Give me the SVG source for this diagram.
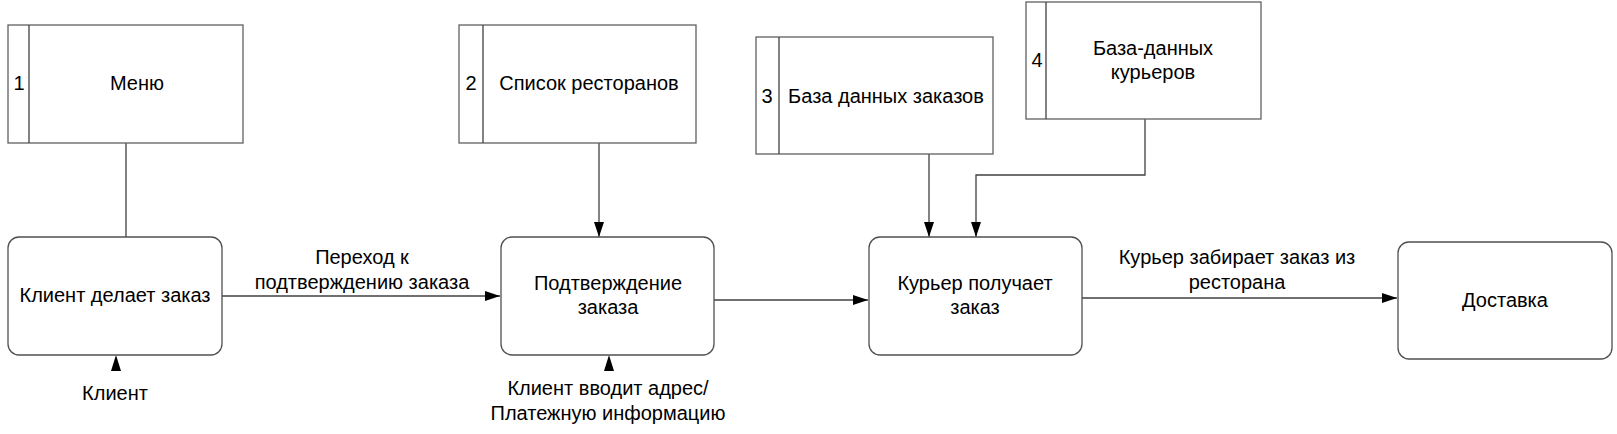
<svg xmlns="http://www.w3.org/2000/svg" width="1617" height="434" viewBox="0 0 1617 434">
<style>
  .bg{fill:#ffffff}
  .store{fill:#ffffff;stroke:#606060;stroke-width:1.3}
  .proc{fill:#ffffff;stroke:#505050;stroke-width:1.3}
  .div{stroke:#404040;stroke-width:1.3;fill:none}
  .t{font-family:"Liberation Sans",Arial,sans-serif;font-size:20px;fill:#000;text-anchor:middle}
  .c{fill:none;stroke:#404040;stroke-width:1.3}
</style>
<defs>
  <marker id="arr" viewBox="0 0 15 10" refX="15" refY="5" markerWidth="15" markerHeight="10" markerUnits="userSpaceOnUse" orient="auto">
    <path d="M0,0 L15,5 L0,10 Z" fill="#000"/>
  </marker>
</defs>
<rect class="bg" x="0" y="0" width="1617" height="434"/>

<g id="connectors">
  <path class="c" d="M126,143 V237"/>
  <path class="c" d="M222,296 H500" marker-end="url(#arr)"/>
  <path class="c" d="M599,143 V237" marker-end="url(#arr)"/>
  <path class="c" d="M714,300 H868" marker-end="url(#arr)"/>
  <path class="c" d="M929,154 V237" marker-end="url(#arr)"/>
  <path class="c" d="M1145,119 V175 H976 V237" marker-end="url(#arr)"/>
  <path class="c" d="M1082,298 H1397" marker-end="url(#arr)"/>
  <path d="M116,355 L121,371 L111,371 Z" fill="#000"/>
  <path d="M609,355 L614,371 L604,371 Z" fill="#000"/>
  <text class="t" x="362" y="264">Переход к</text>
  <text class="t" x="362" y="289">подтверждению заказа</text>
  <text class="t" x="1237" y="264">Курьер забирает заказ из</text>
  <text class="t" x="1237" y="289">ресторана</text>
  <text class="t" x="115" y="400">Клиент</text>
  <text class="t" x="608" y="395">Клиент вводит адрес/</text>
  <text class="t" x="608" y="420">Платежную информацию</text>
</g>

<g id="store1">
  <rect class="store" x="8" y="25" width="235" height="118"/>
  <line class="div" x1="29" y1="25" x2="29" y2="143"/>
  <text class="t" x="19" y="90">1</text>
  <text class="t" x="137" y="90">Меню</text>
</g>

<g id="store2">
  <rect class="store" x="459" y="25" width="237" height="118"/>
  <line class="div" x1="483" y1="25" x2="483" y2="143"/>
  <text class="t" x="471" y="90">2</text>
  <text class="t" x="589" y="90">Список ресторанов</text>
</g>

<g id="store3">
  <rect class="store" x="756" y="37" width="237" height="117"/>
  <line class="div" x1="779" y1="37" x2="779" y2="154"/>
  <text class="t" x="767" y="103">3</text>
  <text class="t" x="886" y="103">База данных заказов</text>
</g>

<g id="store4">
  <rect class="store" x="1026" y="2" width="235" height="117"/>
  <line class="div" x1="1046" y1="2" x2="1046" y2="119"/>
  <text class="t" x="1037" y="67">4</text>
  <text class="t" x="1153" y="55">База-данных</text>
  <text class="t" x="1153" y="79">курьеров</text>
</g>

<g id="proc1">
  <rect class="proc" x="8" y="237" width="214" height="118" rx="11" ry="11"/>
  <text class="t" x="115" y="302">Клиент делает заказ</text>
</g>

<g id="proc2">
  <rect class="proc" x="501" y="237" width="213" height="118" rx="11" ry="11"/>
  <text class="t" x="608" y="290">Подтверждение</text>
  <text class="t" x="608" y="314">заказа</text>
</g>

<g id="proc3">
  <rect class="proc" x="869" y="237" width="213" height="118" rx="11" ry="11"/>
  <text class="t" x="975" y="290">Курьер получает</text>
  <text class="t" x="975" y="314">заказ</text>
</g>

<g id="proc4">
  <rect class="proc" x="1398" y="242" width="214" height="117" rx="11" ry="11"/>
  <text class="t" x="1505" y="307">Доставка</text>
</g>
</svg>
